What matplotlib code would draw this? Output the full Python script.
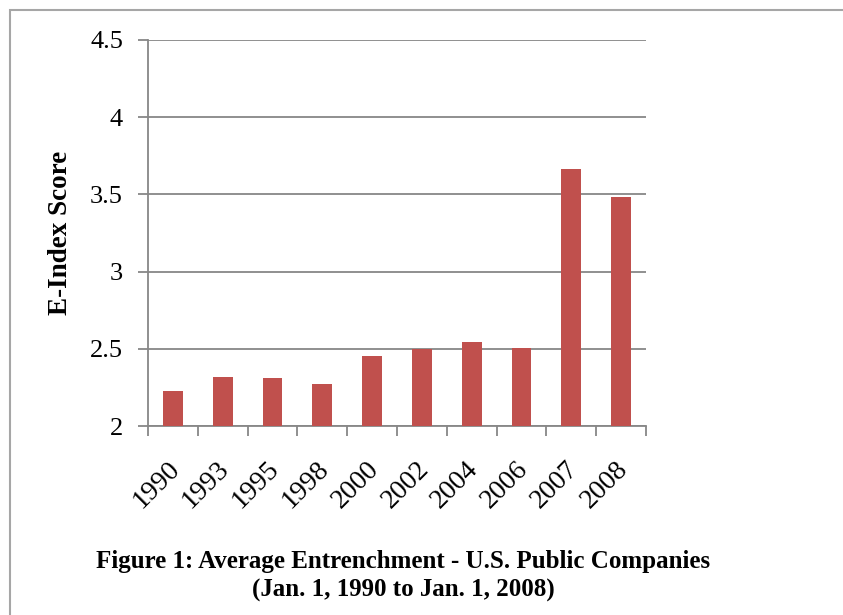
import matplotlib.pyplot as plt
import numpy as np
from matplotlib.patches import Rectangle
from matplotlib.transforms import ScaledTranslation

years = ['1990', '1993', '1995', '1998', '2000', '2002', '2004', '2006', '2007', '2008']
scores = [2.227, 2.32, 2.31, 2.273, 2.453, 2.498, 2.547, 2.505, 3.667, 3.483]

plt.rcParams['font.family'] = ['Liberation Serif', 'DejaVu Serif']

fig = plt.figure(figsize=(8.43, 6.15), dpi=100)
ax = fig.add_axes([0.1756, 0.3073, 0.5907, 0.6277])

x = np.arange(len(years))
ax.bar(x, scores, width=0.4, color='#C0504D', zorder=3)

ax.set_ylim(2, 4.5)
ax.set_yticks([2, 2.5, 3, 3.5, 4, 4.5])
ax.set_yticklabels(['2', '2.5', '3', '3.5', '4', '4.5'])
ax.set_xlim(-0.5, len(years) - 0.5)
ax.grid(True, axis='y', color='#878787', linewidth=1.3, zorder=0)

ax.set_xticks(x)
ax.set_xticklabels(years, rotation=45, ha='right', rotation_mode='anchor')
ax.set_xticks(np.arange(-0.5, len(years)), minor=True)
ax.tick_params(axis='x', which='major', length=0, pad=22, labelsize=20)
ax.tick_params(axis='x', which='minor', length=7, width=1.3, color='#878787')
ax.tick_params(axis='y', length=7, width=1.3, color='#878787', labelsize=19, pad=11)

# nudge the slanted year labels a bit to the left
shift = ScaledTranslation(-6 / 100, 0, fig.dpi_scale_trans)
for lbl in ax.get_xticklabels():
    lbl.set_transform(lbl.get_transform() + shift)

for side in ['top', 'right']:
    ax.spines[side].set_visible(False)
for side in ['left', 'bottom']:
    ax.spines[side].set_color('#878787')
    ax.spines[side].set_linewidth(1.3)

ax.set_ylabel('E-Index Score', fontsize=19.5, fontweight='bold', labelpad=12)

fig.text(0.478, 0.0634, 'Figure 1: Average Entrenchment - U.S. Public Companies\n(Jan. 1, 1990 to Jan. 1, 2008)',
         ha='center', va='center', fontsize=18, fontweight='bold', linespacing=1.35)

fig.patches.append(Rectangle((10 / 843, -0.1), 2, 1 - 10 / 615 + 0.1, transform=fig.transFigure,
                             fill=False, edgecolor='#a6a6a6', linewidth=1.5))

fig.savefig('out.png', dpi=100)
